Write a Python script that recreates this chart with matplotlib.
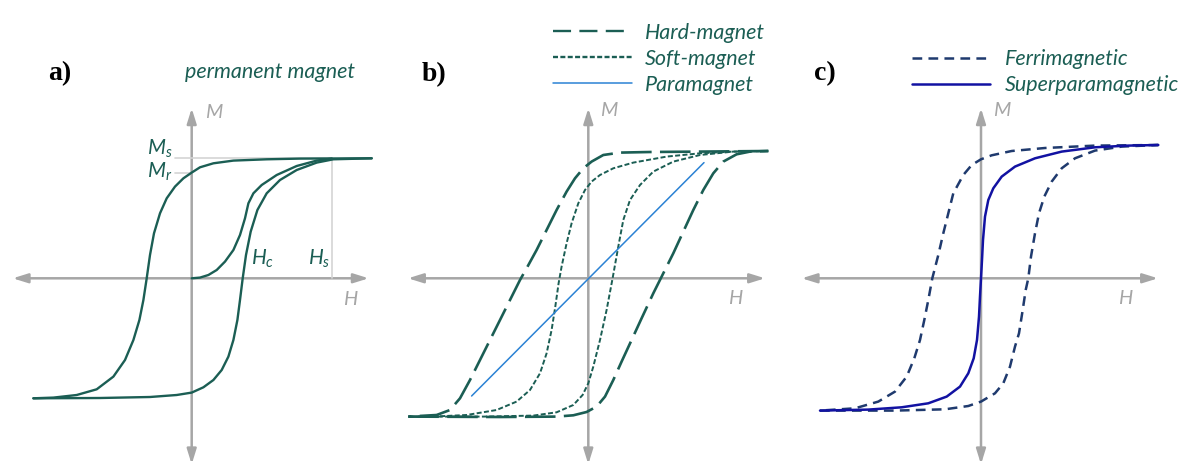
import matplotlib
matplotlib.use("Agg")
import matplotlib.pyplot as plt
from matplotlib.lines import Line2D

# couleurs
TEAL = "#1b5e54"
NAVY = "#1f3a6e"
BLUE_SP = "#1212a2"
BLUE_PARA = "#2b82d4"
GRAY = "#a6a6a6"
LIGHT = "#d4d4d4"

plt.rcParams["mathtext.fontset"] = "custom"
plt.rcParams["mathtext.it"] = "Lato:italic"
plt.rcParams["mathtext.rm"] = "Lato:italic"
plt.rcParams["lines.scale_dashes"] = False
plt.rcParams["lines.solid_capstyle"] = "round"

# ---- a) permanent magnet (H, M en unites arbitraires, Ms = 120)
a_down_H = [180, 108.3, 75, 41.7, 21.7, 8.3, 0, -8.3, -16.7, -25, -31.7, -37.7, -41.7, -45,
            -48.3, -52.3, -58.3, -66.7, -78.3, -95, -115, -138.3, -158.3]
a_down_M = [120, 119.7, 119, 117.7, 115, 111, 105.7, 100, 91.7, 80, 65, 45, 23.3, 0,
            -21.7, -41.7, -61.7, -81.7, -98.3, -111, -116.7, -119.3, -120]
a_up_H = [-158.3, -91.7, -41.7, -15, 0, 11.7, 21.7, 30, 36.7, 41.7, 45.7, 48.3, 51, 54.3,
          59, 65.7, 75, 88.3, 105, 125, 141.7, 180]
a_up_M = [-120, -119.7, -118.7, -116.7, -114.3, -109, -101.7, -91.7, -78.3, -61.7, -41.7,
          -21.7, 0, 23.3, 46.7, 68.3, 85, 98.3, 108.3, 115.7, 119, 120]
a_virgin_H = [0, 8.3, 16.7, 25, 33.3, 41.7, 48.3, 53.3, 56.7, 61.7, 70, 85, 105, 125, 140]
a_virgin_M = [0, 0.7, 3.3, 8.3, 16.7, 28.3, 43.3, 60, 75, 85, 93.3, 103.3, 112.3, 117.7, 119.7]
a_Ms, a_Mr, a_Hs = 120, 105.7, 140

# ---- b) hard / soft / paramagnet
hard_down_H = [180, 111.7, 61.7, 31.7, 15, 3.3, -5, -13.3, -21.7, -31.7, -41.7, -51.7, -61.7,
               -68.3, -78.3, -88.3, -98.3, -108.3, -118.3, -128.3, -138.3, -151.7, -180]
hard_down_M = [127.3, 126.7, 126.3, 125.7, 123.3, 116.7, 110, 100, 86.7, 68.3, 48.3, 28.3, 10,
               -1.7, -21.7, -41.7, -61.7, -81.7, -101.7, -120, -131.7, -136.7, -138.3]
hard_up_H = [-180, -88.3, -31.7, -15, -1.7, 8.3, 16.7, 25, 33.3, 43.3, 53.3, 65, 75, 85, 95,
             105, 115, 125, 135, 148.3, 161.7, 180]
hard_up_M = [-138.3, -138.7, -138.3, -137, -133.7, -128.3, -118.3, -101.7, -83.3, -61.7, -40,
             -15, 5, 25, 46.7, 68.3, 88.3, 105, 116.7, 124, 126.7, 127.3]
soft_down_H = [180, 145, 111.7, 78.3, 45, 25, 11.7, 3.3, -3.3, -10, -16.7, -21.7, -26.7, -29.7,
               -33, -36.7, -41.7, -48.3, -58.3, -71.7, -91.7, -121.7, -155, -180]
soft_down_M = [127.3, 126.7, 125, 121.7, 115.7, 110, 103.3, 96.7, 88.3, 75, 55, 35, 11.7, -5,
               -28.3, -51.7, -75, -95, -111.7, -123.3, -131.7, -136.7, -138.3, -138.3]
soft_up_H = [-180, -105, -55, -31.7, -15, -5.7, 0, 5, 11.7, 18.3, 24.3, 30, 35, 41.7, 51.7, 65,
             85, 111.7, 145, 180]
soft_up_M = [-138.3, -138.3, -137.3, -134, -126.7, -116.7, -105, -88.3, -61.7, -31.7, 0, 31.7,
             58.3, 78.3, 93.3, 106.7, 116.7, 123.3, 126.7, 127.3]
para_H = [-116.7, 115.7]
para_M = [-117.7, 115.7]

# ---- c) ferrimagnetic / superparamagnetic
ferri_down_H = [177.3, 114, 64, 30.7, 10.7, 0, -9.3, -17.7, -27.7, -32.7, -37.7, -42.7, -48.7,
                -52.7, -56.7, -61, -66.7, -74.3, -86, -102.7, -126, -161]
ferri_down_M = [133.3, 132.7, 130.3, 127.3, 123, 119, 113.3, 103.3, 85, 65, 45, 23.3, 0,
                -21.7, -41.7, -61.7, -80, -98.3, -113.3, -123.3, -130, -132.3]
ferri_up_H = [-161, -86, -36, -12.7, 0, 14, 22.3, 29, 34, 38, 41.7, 44.7, 47.3, 50, 54, 58,
              63.3, 70.7, 80.7, 94, 114, 140.7, 177.3]
ferri_up_M = [-132.3, -132.3, -131, -127.7, -123.3, -115, -105, -88.3, -68.3, -55, -31.7,
              -11.7, 0, 21.7, 45, 65, 81.7, 96.7, 110, 120, 127.7, 131.7, 133.3]
super_H = [177.3, 147.3, 114, 80.7, 54, 34, 20.7, 12.3, 7.3, 4, 2, 1, 0, -1, -2, -4, -7.3,
           -12.7, -21, -34.3, -52.7, -79.3, -112.7, -161]
super_M = [133.3, 132.7, 131, 126.7, 120, 111.7, 101.7, 90, 78.3, 61.7, 38.3, 18.3, 0, -18.3,
           -38.3, -61.7, -80, -95, -108.3, -118.3, -125, -129, -131.3, -132.3]

# ---- mise en page (pixels de la figure)
W, H_PX = 1189, 461
ORIGIN_Y = 278.3
panels = [(0, 396, 191.7), (396, 792, 588.3), (792, 1189, 981)]

fig = plt.figure(figsize=(W / 100, H_PX / 100), dpi=100)
axes = []
for x0, x1, ox in panels:
    ax = fig.add_axes([x0 / W, 0, (x1 - x0) / W, 1])
    ax.set_xlim(x0 - ox, x1 - ox)
    ax.set_ylim(ORIGIN_Y - H_PX, ORIGIN_Y)
    ax.axis("off")
    axes.append(ax)

TXT = dict(family="Lato", style="italic")
LEG_FONT = dict(family="Lato", style="italic", size=15.5)


def draw_frame(ax, hx, vy, mpos, hpos):
    """axes H et M avec fleches"""
    arrow = dict(arrowstyle="<|-|>,head_length=0.9,head_width=0.28", color=GRAY, lw=1.8,
                 shrinkA=0, shrinkB=0)
    ax.annotate("", xy=(hx[1], 0), xytext=(hx[0], 0), arrowprops=arrow, zorder=1)
    ax.annotate("", xy=(0, vy[1]), xytext=(0, vy[0]), arrowprops=arrow, zorder=1,
                annotation_clip=False)
    ax.text(mpos[0], mpos[1], "M", color=GRAY, fontsize=14.5, ha="left", va="center", **TXT)
    ax.text(hpos[0], hpos[1], "H", color=GRAY, fontsize=14.5, ha="center", va="center", **TXT)


def panel_label(ax, x, y, s):
    ax.text(x, y, s, fontsize=20, fontweight="bold", family="Liberation Serif",
            ha="center", va="center")


# 📊 a)
ax = axes[0]
draw_frame(ax, (-179, 177), (-186, 170), (13, 166), (158, -21))
ax.plot([-16.7, a_Hs], [a_Ms, a_Ms], color=LIGHT, lw=1.2, zorder=1.5)
ax.plot([-16.7, 0], [a_Mr, a_Mr], color=LIGHT, lw=1.2, zorder=1.5)
ax.plot([a_Hs, a_Hs], [0, a_Ms], color=LIGHT, lw=1.2, zorder=1.5)
for h, m in [(a_down_H, a_down_M), (a_up_H, a_up_M), (a_virgin_H, a_virgin_M)]:
    ax.plot(h, m, color=TEAL, lw=1.7, zorder=3)
ax.text(-19, 129, r"$M_s$", color=TEAL, fontsize=15, ha="right", va="center")
ax.text(-19, 106, r"$M_r$", color=TEAL, fontsize=15, ha="right", va="center")
ax.text(59, 8, r"$H_c$", color=TEAL, fontsize=15, ha="left", va="bottom")
ax.text(116, 8, r"$H_s$", color=TEAL, fontsize=15, ha="left", va="bottom")
ax.text(78, 206, "permanent magnet", color=TEAL, fontsize=15.5, ha="center", va="center",
        **TXT)
panel_label(ax, -131.5, 205, "a)")

# 📊 b)
ax = axes[1]
draw_frame(ax, (-180.3, 176.7), (-186, 170), (12, 168), (147, -20))
HARD = dict(color=TEAL, lw=1.9, dashes=(22, 6), dash_capstyle="butt")
SOFT = dict(color=TEAL, lw=1.4, dashes=(3.6, 1.7), dash_capstyle="butt")
ax.plot(hard_down_H, hard_down_M, zorder=3, **HARD)
ax.plot(hard_up_H, hard_up_M, zorder=3, **HARD)
ax.plot(soft_down_H, soft_down_M, zorder=3, **SOFT)
ax.plot(soft_up_H, soft_up_M, zorder=3, **SOFT)
ax.plot(para_H, para_M, color=BLUE_PARA, lw=1.1, zorder=4)
handles_b = [
    Line2D([], [], color=TEAL, lw=1.7, dashes=(13, 6, 13, 6, 13, 6, 1, 0)),
    Line2D([], [], color=TEAL, lw=1.7, dashes=(3.6, 1.7)),
    Line2D([], [], color=BLUE_PARA, lw=1.1),
]
ax.legend(handles_b, ["Hard-magnet", "Soft-magnet", "Paramagnet"], loc="upper left",
          bbox_to_anchor=(0.396, 0.951), frameon=False, borderpad=0, borderaxespad=0,
          handlelength=3.7, handletextpad=0.56, labelspacing=0.28, labelcolor=TEAL,
          prop=LEG_FONT)
panel_label(ax, -154.5, 204, "b)")

# 📊 c)
ax = axes[2]
draw_frame(ax, (-179.3, 177), (-186, 170), (12, 168), (144, -20))
FERRI = dict(color=NAVY, lw=1.8, dashes=(7, 4.5), dash_capstyle="butt")
ax.plot(ferri_down_H, ferri_down_M, zorder=3, **FERRI)
ax.plot(ferri_up_H, ferri_up_M, zorder=3, **FERRI)
ax.plot(super_H, super_M, color=BLUE_SP, lw=1.8, zorder=4)
handles_c = [
    Line2D([], [], color=NAVY, lw=1.8, dashes=(7, 4.5)),
    Line2D([], [], color=BLUE_SP, lw=1.8),
]
ax.legend(handles_c, ["Ferrimagnetic", "Superparamagnetic"], loc="upper left",
          bbox_to_anchor=(0.302, 0.893), frameon=False, borderpad=0, borderaxespad=0,
          handlelength=3.63, handletextpad=0.7, labelspacing=0.28, labelcolor=TEAL,
          prop=LEG_FONT)
panel_label(ax, -156, 205, "c)")

fig.savefig("out.png", dpi=100)
